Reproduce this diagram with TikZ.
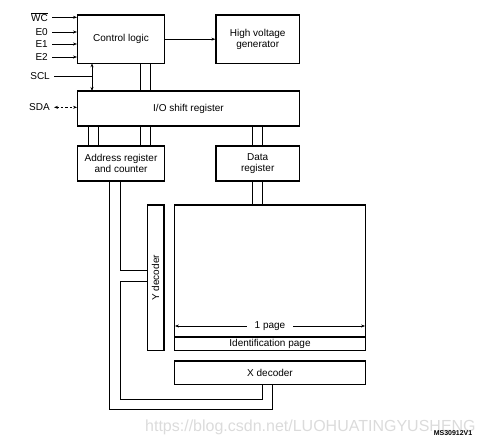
\documentclass[tikz,border=0pt]{standalone}
\usepackage{fontspec}
\setmainfont{Liberation Sans}
\usetikzlibrary{arrows.meta}
\begin{document}
\begin{tikzpicture}[x=1pt,y=-1pt,
  box/.style={draw,line width=1.3pt,inner sep=0pt,font=\fontsize{10}{11}\selectfont,align=center},
  wire/.style={line width=0.9pt},
  arr/.style={wire,-{Stealth[length=4pt,width=3pt]}},
  darr/.style={wire,{Stealth[length=4pt,width=3pt]}-{Stealth[length=4pt,width=3pt]}},
  lbl/.style={font=\fontsize{10}{11}\selectfont,inner sep=0pt,anchor=east}]
\useasboundingbox (0,0) rectangle (487,445);
% watermark
\node[anchor=base west,inner sep=0pt,text=black!14,font=\fontsize{16}{18}\selectfont] (wm) at (145,431.5) {https://blog.csdn.net/LUOHUATINGYUSHENG};
% boxes
\node[box,minimum width=86.6pt,minimum height=48.3pt] (ctrl) at (121,39.2) {Control logic};
\node[box,minimum width=83.3pt,minimum height=48.5pt] (hv) at (257.7,39.2) {High voltage\\generator};
\node[box,minimum width=221.6pt,minimum height=35pt] (io) at (188.5,108.5) {I/O shift register};
\node[box,minimum width=86.6pt,minimum height=35pt] (addr) at (121,163.5) {Address register\\and counter};
\node[box,minimum width=83.3pt,minimum height=35pt] (data) at (257.7,163.5) {Data\\register};
\node[box,minimum width=191.4pt,minimum height=145.7pt] (mem) at (270,277.85) {};
\node[box,minimum width=191.4pt,minimum height=13.7pt] (idp) at (270,343.85) {Identification page};
\node[box,minimum width=16.7pt,minimum height=145.7pt] (ydec) at (155.65,277.85) {};
\node[rotate=90,font=\fontsize{10}{11}\selectfont,inner sep=0pt] (ytxt) at (ydec.center) {Y decoder};
\node[box,minimum width=191.4pt,minimum height=23.3pt] (xdec) at (270,372.65) {X decoder};
% inputs
\node[lbl] (wc) at (48,17.3) {$\overline{\mbox{WC}}$};
\node[lbl] (e0) at (48,32) {E0};
\node[lbl] (e1) at (48,44) {E1};
\node[lbl] (e2) at (48,57) {E2};
\node[lbl] (scl) at (50,76) {SCL};
\node[lbl] (sda) at (50,107.3) {SDA};
\coordinate (wcs) at (52.3,17.3);
\coordinate (e0s) at (52.3,32);
\coordinate (e1s) at (52.3,44);
\coordinate (e2s) at (52.3,57);
\draw[arr] (wcs) -- (wcs -| ctrl.west);
\draw[arr] (e0s) -- (e0s -| ctrl.west);
\draw[arr] (e1s) -- (e1s -| ctrl.west);
\draw[arr] (e2s) -- (e2s -| ctrl.west);
\draw[arr] (ctrl.east) -- (hv.west);
% SCL
\coordinate (sclj) at (92,76);
\coordinate (sclt) at (92,63.3);
\coordinate (sclb) at (92,91);
\draw[wire] (54,76) coordinate (scls) -- (sclj);
\draw[darr] (sclt) -- (sclb);
% SDA
\coordinate (sdas) at (54,107.3);
\draw[darr,dash pattern=on 2.5pt off 2pt] (sdas) -- (sdas -| io.west);
% double buses
\foreach \x in {140,150.7}{
  \draw[wire] (ctrl.south -| \x,0) -- (io.north -| \x,0);
  \draw[wire] (io.south -| \x,0) -- (addr.north -| \x,0);
}
\foreach \x in {88.3,98.3}{
  \draw[wire] (io.south -| \x,0) -- (addr.north -| \x,0);
}
\foreach \x in {252.3,262.3}{
  \draw[wire] (io.south -| \x,0) -- (data.north -| \x,0);
  \draw[wire] (data.south -| \x,0) -- (mem.north -| \x,0);
}
% address lines
\draw[wire] (addr.south -| 120,0) -- (120,270.7) -- (ydec.west |- 0,270.7);
\draw[wire] (ydec.west |- 0,281.7) -- (120,281.7) -- (120,399) -- (262.7,399) -- (xdec.south -| 262.7,0);
\draw[wire] (addr.south -| 109.3,0) -- (109.3,409.3) -- (272.7,409.3) -- (xdec.south -| 272.7,0);
% 1 page
\coordinate (pl) at (174.9,326);
\coordinate (pr) at (365.1,326);
\draw[darr] (pl) -- (pr) node[midway,fill=white,inner xsep=8pt,inner ysep=1pt,font=\fontsize{10}{11}\selectfont] (pg) {1 page};
% ref
\node[anchor=east,inner sep=0pt,font=\fontsize{7}{8}\selectfont\bfseries] (ref) at (472.5,433.3) {MS30912V1};
\end{tikzpicture}
\end{document}
